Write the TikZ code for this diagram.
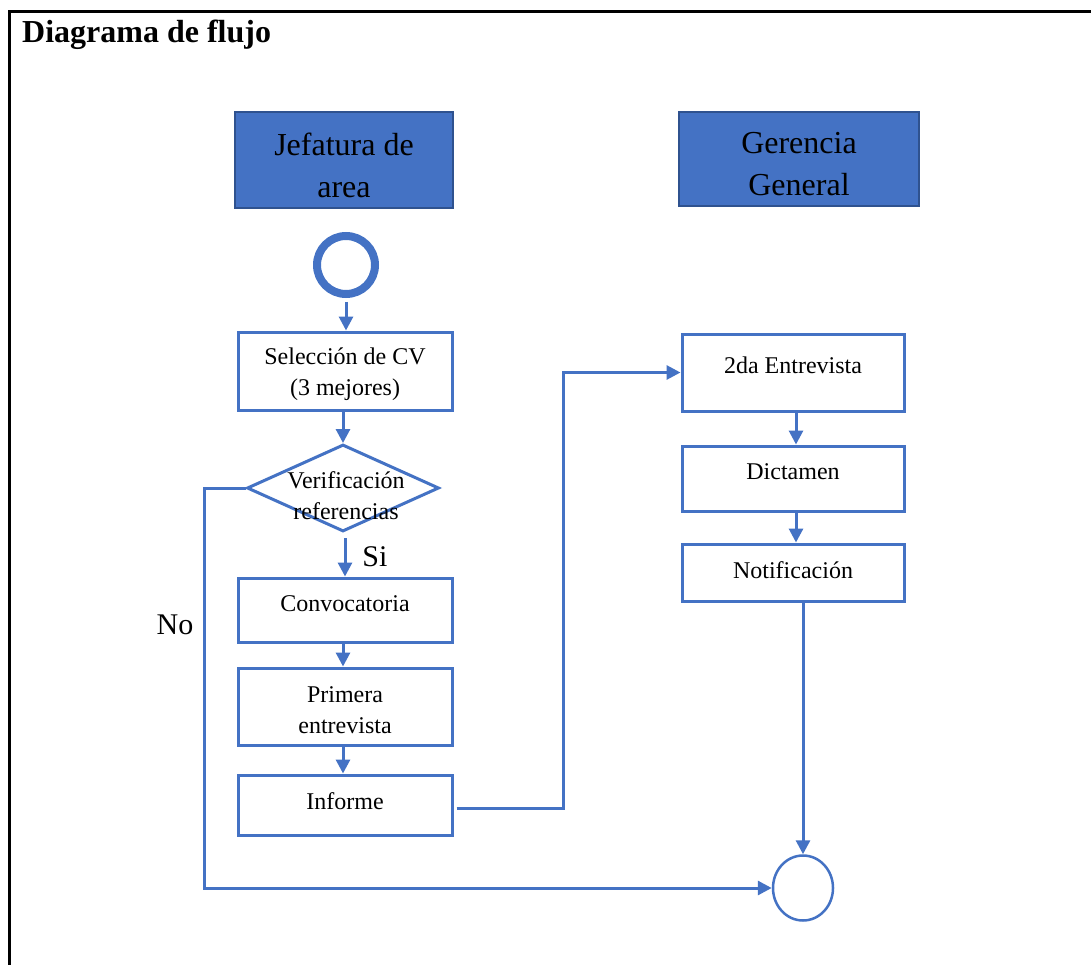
\documentclass[tikz,border=0pt]{standalone}
\usepackage{fontspec}
\setmainfont{Liberation Serif}
\usetikzlibrary{arrows.meta,shapes.geometric}
\definecolor{lblue}{HTML}{4472C4}
\definecolor{dblue}{HTML}{2F528F}
\tikzset{
  hdr/.style={draw=dblue,fill=lblue,line width=2.5pt,rectangle,inner sep=0pt},
  box/.style={draw=lblue,fill=white,line width=3pt,rectangle,inner sep=0pt},
  htxt/.style={inner sep=0pt,align=center,font=\fontsize{32}{42}\selectfont},
  btxt/.style={inner sep=0pt,align=center,font=\fontsize{24}{31}\selectfont},
  conn/.style={draw=lblue,line width=3pt,-{Triangle[length=14pt,width=14pt]}},
  lbl/.style={font=\fontsize{30}{36}\selectfont,inner sep=0pt}
}
\begin{document}
\begin{tikzpicture}[x=1pt,y=-1pt]
\useasboundingbox (0,0) rectangle (1091,965);
\clip (0,0) rectangle (1091,965);
\fill[white] (0,0) rectangle (1091,965);
\draw[line width=3pt,black] (9,980) -- (9,12) -- (1100,12);
\node[anchor=base west,inner sep=0pt,font=\fontsize{32}{36}\selectfont\bfseries] (title) at (22,43) {Diagrama de flujo};
% headers
\node[hdr,minimum width=218pt,minimum height=96pt] (jef) at (344,160) {};
\node[htxt] (jeft) at (344,165) {Jefatura de\\area};
\node[hdr,minimum width=240pt,minimum height=94pt] (ger) at (799,159) {};
\node[htxt] (gert) at (799,164) {Gerencia\\General};
% start
\node[circle,draw=lblue,line width=8pt,minimum size=58pt,inner sep=0pt] (start) at (346,265) {};
% left column
\node[box,minimum width=214pt,minimum height=78pt] (sel) at (345,371) {};
\node[btxt] (selt) at (345,374) {Selección de CV\\(3 mejores)};
\node[diamond,draw=lblue,line width=3pt,fill=white,minimum width=192pt,minimum height=87pt,aspect=2.2,inner sep=0pt] (dia) at (343,488) {};
\node[btxt] (diat) at (346,496) {Verificación\\referencias};
\node[box,minimum width=214pt,minimum height=64pt] (conv) at (345,610) {};
\node[btxt] (convt) at (345,604) {Convocatoria};
\node[box,minimum width=214pt,minimum height=77pt] (prim) at (345,706.5) {};
\node[btxt] (primt) at (345,710) {Primera\\entrevista};
\node[box,minimum width=214pt,minimum height=60pt] (inf) at (345,805) {};
\node[btxt] (inft) at (345,801) {Informe};
% right column
\node[box,minimum width=222pt,minimum height=77pt] (e2) at (793,372.5) {};
\node[btxt] (e2t) at (793,365) {2da Entrevista};
\node[box,minimum width=222pt,minimum height=65pt] (dict) at (793,478.5) {};
\node[btxt] (dictt) at (793,472) {Dictamen};
\node[box,minimum width=222pt,minimum height=57pt] (notif) at (793,572.5) {};
\node[btxt] (notift) at (793,570) {Notificación};
% end
\node[ellipse,draw=lblue,line width=2.5pt,minimum width=60pt,minimum height=65pt,inner sep=0pt] (endc) at (803,888) {};
% labels
\node[lbl] (si) at (375,557) {Si};
\node[lbl] (no) at (175,625) {No};
% connectors
\coordinate (b1) at (563,0);
\coordinate (b2) at (204,0);
\draw[conn] (start.south) ++(0,4) -- (start.south |- sel.north);
\draw[conn] (sel.south -| dia.north) -- (dia.north);
\draw[conn,shorten <=5pt] (dia.south -| 345,0) -- (conv.north);
\draw[conn] (conv.south -| 343,0) -- (prim.north -| 343,0);
\draw[conn] (prim.south -| 343,0) -- (inf.north -| 343,0);
\draw[conn] ([xshift=3pt,yshift=-3pt]inf.east) -- ([yshift=-3pt]inf.east -| b1) |- (e2.west);
\draw[conn] (dia.west) -- (dia.west -| b2) |- (endc.west);
\draw[conn] (e2.south -| 796,0) -- (dict.north -| 796,0);
\draw[conn] (dict.south -| 796,0) -- (notif.north -| 796,0);
\draw[conn] (notif.south -| endc.north) -- (endc.north);
\end{tikzpicture}
\end{document}
